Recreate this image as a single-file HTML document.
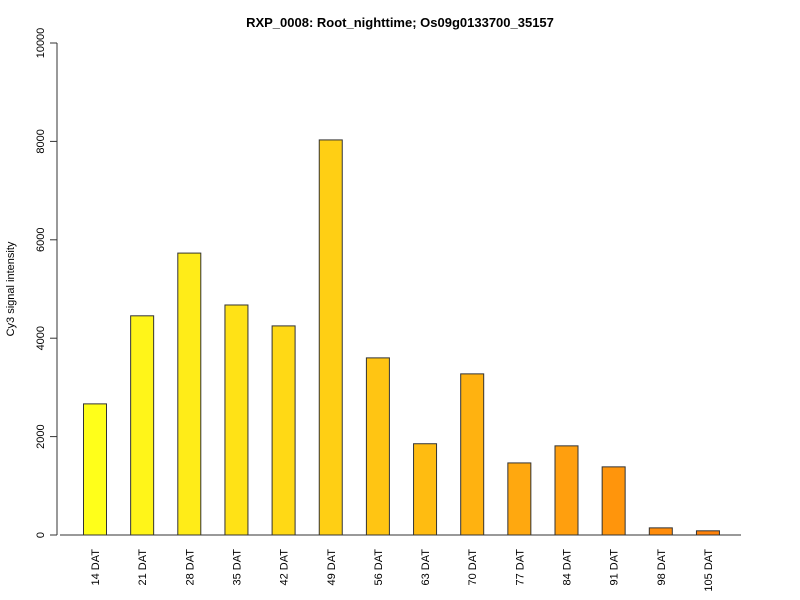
<!DOCTYPE html>
<html><head><meta charset="utf-8"><style>
body{margin:0;background:#fff}
svg{display:block;font-family:"Liberation Sans",Arial,sans-serif}
</style></head><body>
<svg id="chart" width="800" height="600">
<text x="400" y="27" text-anchor="middle" font-size="13" font-weight="bold">RXP_0008: Root_nighttime; Os09g0133700_35157</text>
<text transform="translate(14,289) rotate(-90)" text-anchor="middle" font-size="11">Cy3 signal intensity</text>
<g id="yaxis"></g>
<g id="bars"></g>
<g id="xlabels"></g>
<line x1="60" y1="535" x2="741" y2="535" stroke="#333"/>
</svg>
<script>
const categories = ["14 DAT","21 DAT","28 DAT","35 DAT","42 DAT","49 DAT","56 DAT","63 DAT","70 DAT","77 DAT","84 DAT","91 DAT","98 DAT","105 DAT"];
const values = [2665, 4455, 5730, 4675, 4250, 8030, 3600, 1855, 3275, 1465, 1812, 1385, 145, 85];
const yTicks = [0, 2000, 4000, 6000, 8000, 10000];
const NS = "http://www.w3.org/2000/svg";
const y = v => 535 - v * 492 / 10000;
const x = i => 95 + i * 47.15;
const yg = document.getElementById("yaxis");
let ln = document.createElementNS(NS, "line");


ln.setAttribute("x1", 57); ln.setAttribute("x2", 57);
ln.setAttribute("y1", y(0)); ln.setAttribute("y2", y(10000));
ln.setAttribute("stroke", "#333");
yg.appendChild(ln);
yTicks.forEach(t => {
  const tk = document.createElementNS(NS, "line");
  
  
  tk.setAttribute("x1", 50); tk.setAttribute("x2", 57);
  tk.setAttribute("y1", y(t)); tk.setAttribute("y2", y(t));
  tk.setAttribute("stroke", "#333");
  yg.appendChild(tk);
  const tx = document.createElementNS(NS, "text");
  
  
  tx.setAttribute("transform", `translate(44,${y(t)}) rotate(-90)`);
  tx.setAttribute("text-anchor", "middle");
  tx.setAttribute("font-size", "11");
  tx.textContent = t;
  yg.appendChild(tx);
});
const bg = document.getElementById("bars"), xg = document.getElementById("xlabels");
const n = categories.length;
values.forEach((v, i) => {
  const f = i / (n - 1);
  const g = Math.round(255 - f * 125), b = Math.round(26 - f * 16);
  const r = document.createElementNS(NS, "rect");
  
  
  r.setAttribute("x", x(i) - 11.5); r.setAttribute("width", 23);
  r.setAttribute("y", y(v)); r.setAttribute("height", y(0) - y(v));
  r.setAttribute("fill", `rgb(255,${g},${b})`);
  r.setAttribute("stroke", "#333");
  bg.appendChild(r);
  const tx = document.createElementNS(NS, "text");
  
  
  tx.setAttribute("transform", `translate(${x(i) + 4},549) rotate(-90)`);
  tx.setAttribute("text-anchor", "end");
  tx.setAttribute("font-size", "11");
  tx.textContent = categories[i];
  xg.appendChild(tx);
});
</script>
</body></html>
